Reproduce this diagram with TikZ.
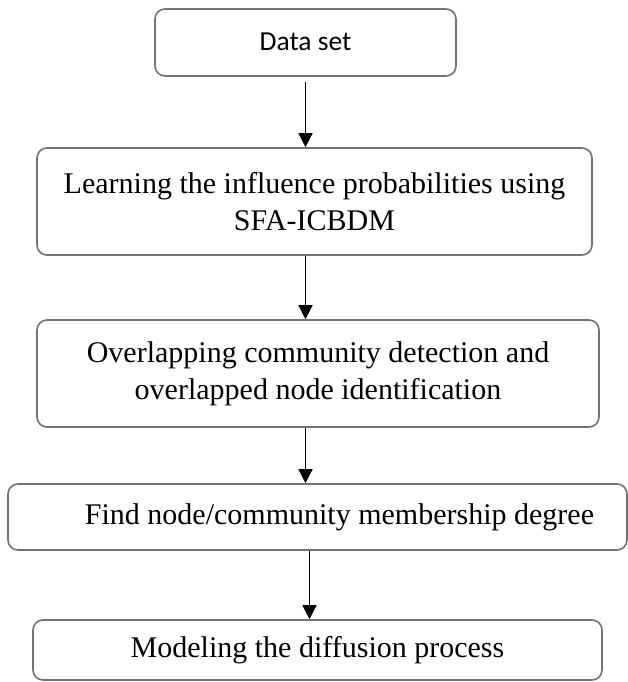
\documentclass[tikz,border=0pt]{standalone}
\usepackage{fontspec}
\setmainfont{Liberation Serif}
\newfontfamily\boxsans{Carlito}
\usetikzlibrary{arrows.meta}
\begin{document}
\begin{tikzpicture}[x=1pt,y=-1pt,
  stepbox/.style={draw=black!55, line width=1.6pt, rounded corners=10pt, inner sep=0pt, align=center,
    font=\fontsize{30}{37}\selectfont},
  flow/.style={draw=black, line width=1.4pt, -{Triangle[width=14pt,length=14pt]}}]
\useasboundingbox[fill=white] (0,0) rectangle (628,682);
\node[stepbox, minimum width=301pt, minimum height=67pt, font=\boxsans\fontsize{27.5}{32}\selectfont] (b1) at (305.5,42.5) {\raisebox{2pt}{Data set}};
\node[stepbox, minimum width=555pt, minimum height=107pt] (b2) at (314.5,201.5) {Learning the influence probabilities using\\SFA-ICBDM};
\node[stepbox, minimum width=562pt, minimum height=107pt] (b3) at (318,373.5) {Overlapping community detection and\\overlapped node identification};
\node[stepbox, minimum width=619pt, minimum height=66pt] (b4) at (317.5,517) {\hspace*{44pt}Find node/community membership degree};
\node[stepbox, minimum width=569pt, minimum height=60pt] (b5) at (317.5,650) {Modeling the diffusion process};
\coordinate (c1) at ([yshift=-5pt]b1.south);
\coordinate (c4) at ([xshift=4pt]b1.south);
\draw[flow] (c1) -- (c1 |- b2.north);
\draw[flow] (c1 |- b2.south) -- (c1 |- b3.north);
\draw[flow] (c1 |- b3.south) -- (c1 |- b4.north);
\draw[flow] (c4 |- b4.south) -- (c4 |- b5.north);
\end{tikzpicture}
\end{document}
